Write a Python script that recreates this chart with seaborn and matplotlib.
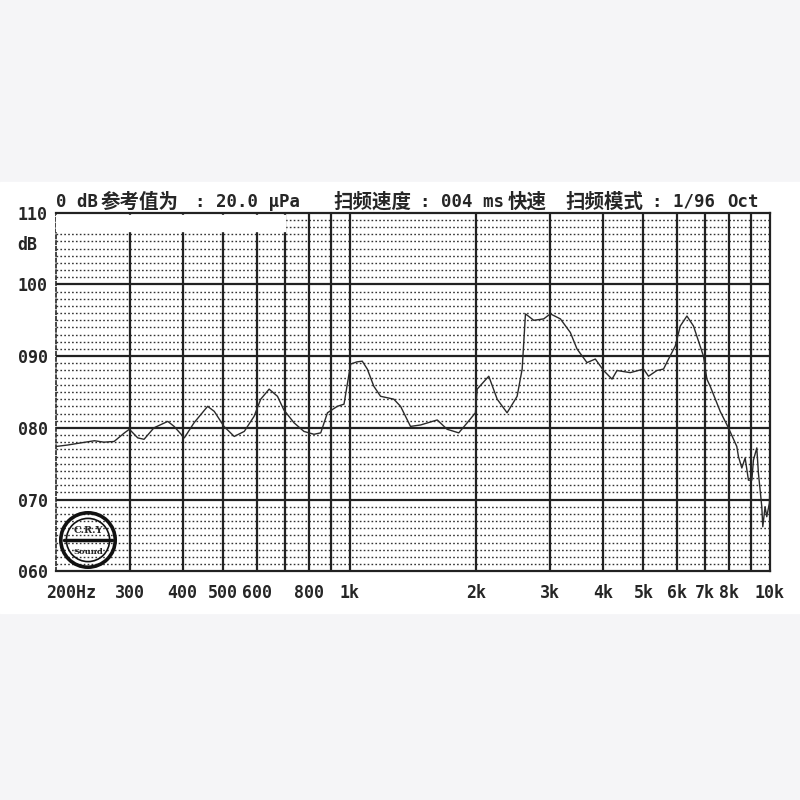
import numpy as np
import pandas as pd
import matplotlib
matplotlib.use("Agg")
import matplotlib.pyplot as plt
import matplotlib.patches as mpatches
import matplotlib.transforms as mtransforms
import seaborn as sns

# frequency response (Hz, dB)
freq = [200, 213, 229, 247, 260, 275, 291, 299, 313, 324, 342, 369, 382, 404,
        426, 459, 476, 502, 531, 561, 592, 614, 643, 673, 697, 737, 778, 822,
        853, 885, 934, 969, 1005, 1040, 1071, 1101, 1141, 1184, 1273, 1321,
        1395, 1474, 1615, 1705, 1817, 1903, 1991, 2010, 2142, 2243, 2368, 2502,
        2572, 2619, 2741, 2894, 3002, 3171, 3349, 3474, 3669, 3840, 4018, 4208,
        4325, 4650, 5001, 5140, 5382, 5580, 5736, 5950, 6116, 6343, 6576, 6945,
        7076, 7206, 7611, 7962, 8337, 8412, 8570, 8726, 8886, 9053, 9132, 9302,
        9384, 9560, 9612, 9734, 9824, 9966, 10000]
level = [77.4, 77.6, 77.9, 78.2, 78.0, 78.1, 79.3, 79.8, 78.6, 78.4, 80.0, 80.9,
         80.2, 78.6, 80.7, 83.0, 82.3, 80.2, 78.8, 79.5, 81.6, 84.0, 85.4, 84.4,
         82.5, 80.7, 79.5, 79.1, 79.3, 82.1, 83.0, 83.3, 88.9, 89.2, 89.3, 88.2,
         85.8, 84.4, 84.0, 83.0, 80.2, 80.4, 81.1, 79.8, 79.3, 80.7, 82.1, 85.4,
         87.2, 84.0, 82.1, 84.4, 88.2, 95.9, 95.0, 95.2, 95.9, 95.2, 93.3, 91.0,
         89.1, 89.6, 88.0, 86.8, 88.0, 87.7, 88.2, 87.2, 88.0, 88.2, 89.6, 91.4,
         94.2, 95.6, 94.2, 90.0, 86.8, 85.8, 82.3, 80.0, 77.4, 76.0, 74.4, 75.8,
         72.7, 72.7, 75.5, 77.2, 73.7, 69.0, 66.2, 69.0, 67.6, 69.5, 72.3]

grid_freqs = [300, 400, 500, 600, 700, 800, 900, 1000, 2000, 3000, 4000,
              5000, 6000, 7000, 8000, 9000]
tick_freqs = [200, 300, 400, 500, 600, 800, 1000, 2000, 3000, 4000, 5000,
              6000, 7000, 8000, 10000]
tick_names = ["200Hz", "300", "400", "500", "600", "800", "1k", "2k", "3k",
              "4k", "5k", "6k", "7k", "8k", "10k"]
db_ticks = [60, 70, 80, 90, 100, 110]
db_names = ["060", "070", "080", "090", "100", "110"]

# header pieces and their left pixel position
header_parts = ["0 dB", "参考值为", ": 20.0 μPa", "扫频速度", ": 004 ms", "快速",
                "扫频模式", ": 1/96", "Oct"]
header_x = [56, 101, 195, 333, 420, 508, 565, 652, 727]
header_cjk = [False, True, False, True, False, True, True, False, False]

sns.set_style("white")
mono = ["DejaVu Sans Mono", "Noto Sans CJK SC"]
plt.rcParams["font.family"] = mono

fig = plt.figure(figsize=(8, 8), dpi=100, facecolor="#f5f5f7")
# white band behind the chart
fig.patches.append(mpatches.Rectangle((0, 1 - 613 / 800), 1, (613 - 182) / 800,
                                      transform=fig.transFigure,
                                      color="white", zorder=-5))
ax = fig.add_axes([0.07, 0.286, 0.8925, 0.448])
ax.set_facecolor("white")

df = pd.DataFrame({"freq": freq, "level": level})
sns.lineplot(data=df, x="freq", y="level", ax=ax, color="#2a2a2a",
             linewidth=1.0, zorder=5)

ax.set_xscale("log")
ax.set_xlim(200, 10000)
ax.set_ylim(60, 110)

# grid: dotted every dB, solid every 10 dB, solid at each frequency
for d in range(61, 110):
    if d % 10:
        ax.axhline(d, color="#333333", lw=1.0, ls=(0, (1.2, 1.6)), zorder=1)
for d in [70, 80, 90, 100]:
    ax.axhline(d, color="#222222", lw=1.6, zorder=2)
for f in grid_freqs:
    ax.axvline(f, color="#222222", lw=1.6, zorder=2)

# blank patch in top-left corner
ax.fill_between([200, 700], 107.4, 109.7, color="white", zorder=3)

for s in ["top", "right", "bottom"]:
    ax.spines[s].set_linewidth(1.6)
    ax.spines[s].set_color("#222222")
ax.spines["left"].set_linestyle((0, (2, 1.5)))
ax.spines["left"].set_linewidth(1.2)

ax.set_xticks(tick_freqs)
ax.set_xticklabels(tick_names, fontsize=12, fontweight="bold", family=mono)
ax.xaxis.set_minor_locator(matplotlib.ticker.NullLocator())
ax.set_yticks(db_ticks)
ax.set_yticklabels(db_names, fontsize=12, fontweight="bold", family=mono)
ax.tick_params(length=0, pad=6)
ax.tick_params(axis="x", pad=9)
ax.set_xlabel("")
ax.set_ylabel("")

# the first label starts just left of the axis instead of centred on it
first = ax.get_xticklabels()[0]
first.set_horizontalalignment("left")
first.set_transform(first.get_transform() +
                    mtransforms.ScaledTranslation(-0.1, 0, fig.dpi_scale_trans))

fig.text(0.022, 1 - 245 / 800, "dB", fontsize=12, fontweight="bold",
         family=mono, va="center")
for part, px, cjk in zip(header_parts, header_x, header_cjk):
    fig.text(px / 800, 1 - 202 / 800, part, fontsize=14 if cjk else 12.5,
             fontweight="bold", family=mono, va="center")

# logo
cx, cy = 88 / 800, 1 - 540 / 800
for r, lw in [(0.034, 2.6), (0.027, 1.2)]:
    fig.patches.append(mpatches.Circle((cx, cy), r, transform=fig.transFigure,
                                       fill=False, ec="#111111", lw=lw,
                                       zorder=6))
fig.lines.append(matplotlib.lines.Line2D([cx - 0.03, cx + 0.03], [cy, cy],
                                         transform=fig.transFigure,
                                         color="#111111", lw=2.5, zorder=6))
fig.text(cx, cy + 0.012, "C.R.Y", ha="center", va="center", fontsize=7,
         fontweight="bold", family="DejaVu Serif", zorder=7)
fig.text(cx, cy - 0.015, "Sound", ha="center", va="center", fontsize=6,
         fontweight="bold", family="DejaVu Serif", zorder=7)

fig.savefig("out.png", dpi=100, facecolor=fig.get_facecolor())
